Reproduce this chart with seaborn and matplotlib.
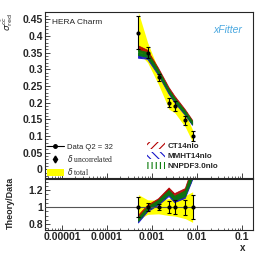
import matplotlib
matplotlib.use('Agg')
import matplotlib.pyplot as plt
import seaborn as sns
import numpy as np
import pandas as pd
from matplotlib.lines import Line2D
from matplotlib.patches import Patch
from matplotlib.ticker import MultipleLocator, FixedLocator, LogLocator, NullFormatter, FuncFormatter

# --- data (HERA charm, Q2 = 32) ---
x_vals = [0.0005, 0.0008, 0.0014, 0.0024, 0.0032, 0.0055, 0.008]
sigma_red = [0.410, 0.350, 0.276, 0.200, 0.190, 0.147, 0.100]
err_uncor = [0.050, 0.0175, 0.011, 0.014, 0.015, 0.013, 0.014]
err_total = [0.060, 0.030, 0.022, 0.020, 0.020, 0.020, 0.018]

ct14 = [0.362, 0.350, 0.297, 0.240, 0.215, 0.174, 0.142]
ct14_err = [0.008, 0.007, 0.006, 0.005, 0.005, 0.005, 0.005]
mmht = [0.340, 0.336, 0.287, 0.230, 0.205, 0.166, 0.136]
mmht_err = [0.007, 0.006, 0.005, 0.005, 0.005, 0.004, 0.004]
nnpdf = [0.349, 0.343, 0.292, 0.234, 0.209, 0.170, 0.139]
nnpdf_err = [0.008, 0.007, 0.006, 0.005, 0.005, 0.005, 0.005]

x_ticks = [1e-5, 1e-4, 1e-3, 1e-2, 1e-1]
x_tick_labels = ['0.00001', '0.0001', '0.001', '0.01', '0.1']

df = pd.DataFrame({'x': x_vals, 'sigma': sigma_red, 'uncor': err_uncor, 'total': err_total})
df['ratio'] = 1.0
df['rel_uncor'] = df['uncor'] / df['sigma']
df['rel_total'] = df['total'] / df['sigma']

theory = [
    ('CT14nlo', ct14, ct14_err, '#b40000', '////'),
    ('MMHT14nlo', mmht, mmht_err, '#1414c8', '\\\\\\\\'),
    ('NNPDF3.0nlo', nnpdf, nnpdf_err, '#0a7a0a', '||||'),
]

sns.set_style("ticks")
plt.rcParams['font.family'] = ['Liberation Sans', 'DejaVu Sans']
plt.rcParams['xtick.direction'] = 'in'
plt.rcParams['ytick.direction'] = 'in'
plt.rcParams['hatch.linewidth'] = 0.8
plt.rcParams['axes.linewidth'] = 0.8

fig = plt.figure(figsize=(2.66, 2.58), dpi=100)
ax = fig.add_axes([0.169, 0.312, 0.782, 0.641])
axr = fig.add_axes([0.169, 0.1085, 0.782, 0.1975])

# --- top panel ---
ax.fill_between(df['x'], df['sigma'] - df['total'], df['sigma'] + df['total'],
                color='#ffff00', lw=0, zorder=1)
for name, vals, errs, col, hatch in theory:
    v = np.array(vals)
    e = np.array(errs)
    ax.fill_between(x_vals, v - e, v + e, facecolor=col, edgecolor=col,
                    hatch=hatch, lw=0.6, alpha=0.9, zorder=2)
ax.errorbar(df['x'], df['sigma'], yerr=df['uncor'], fmt='none', ecolor='black',
            elinewidth=0.8, capsize=1.2, capthick=0.8, zorder=4)
sns.scatterplot(data=df, x='x', y='sigma', ax=ax, color='black', s=9,
                edgecolor='black', linewidth=0, zorder=5, legend=False)

ax.set_xscale('log')
ax.set_xlim(4.2e-6, 0.175)
ax.set_ylim(-0.024, 0.471)
ax.yaxis.set_major_locator(MultipleLocator(0.05))
ax.yaxis.set_minor_locator(MultipleLocator(0.01))
ax.yaxis.set_major_formatter(FuncFormatter(lambda v, p: '%g' % round(v, 2)))
ax.xaxis.set_major_locator(FixedLocator(x_ticks))
ax.xaxis.set_minor_locator(LogLocator(base=10, subs=np.arange(2, 10)))
ax.xaxis.set_major_formatter(NullFormatter())
ax.xaxis.set_minor_formatter(NullFormatter())
ax.set_xlabel('')
ax.set_ylabel('')

# --- ratio panel ---
axr.fill_between(df['x'], 1 - df['rel_total'], 1 + df['rel_total'],
                 color='#ffff00', lw=0, zorder=1)
for name, vals, errs, col, hatch in theory:
    v = np.array(vals) / df['sigma'].values
    e = np.array(errs) / df['sigma'].values
    axr.fill_between(x_vals, v - e, v + e, facecolor=col, edgecolor=col,
                     hatch=hatch, lw=0.6, alpha=0.9, zorder=2)
axr.axhline(1.0, color='#555555', lw=0.8, zorder=3)
axr.errorbar(df['x'], df['ratio'], yerr=df['rel_uncor'], fmt='none', ecolor='black',
             elinewidth=0.8, capsize=1.2, capthick=0.8, zorder=4)
sns.scatterplot(data=df, x='x', y='ratio', ax=axr, color='black', s=9,
                edgecolor='black', linewidth=0, zorder=5, legend=False)

axr.set_xscale('log')
axr.set_xlim(4.2e-6, 0.175)
axr.set_ylim(0.73, 1.33)
axr.yaxis.set_major_locator(FixedLocator([0.8, 1.0, 1.2]))
axr.yaxis.set_minor_locator(MultipleLocator(0.05))
axr.yaxis.set_major_formatter(FuncFormatter(lambda v, p: '%g' % round(v, 2)))
axr.xaxis.set_major_locator(FixedLocator(x_ticks))
axr.xaxis.set_major_formatter(FuncFormatter(lambda v, p: x_tick_labels[x_ticks.index(v)] if v in x_ticks else ''))
axr.xaxis.set_minor_locator(LogLocator(base=10, subs=np.arange(2, 10)))
axr.xaxis.set_minor_formatter(NullFormatter())
axr.set_xlabel('')
axr.set_ylabel('')

for a in (ax, axr):
    a.tick_params(which='major', length=3.6, width=0.6, labelsize=7.5, pad=1.5)
    a.tick_params(which='minor', length=1.8, width=0.5)
    for lab in a.get_xticklabels() + a.get_yticklabels():
        lab.set_fontweight('bold')

# --- legends ---
left_handles = [
    Line2D([], [], color='black', marker='o', ms=2.5, lw=0.8),
    Line2D([], [], color='black', marker='d', ms=3.5, lw=0),
    Patch(facecolor='#ffff00', edgecolor='none'),
]
leg1 = ax.legend(left_handles, ['Data Q2 = 32', r'$\delta$ uncorrelated', r'$\delta$ total'],
                 loc='upper left', bbox_to_anchor=(0.01, 0.21), frameon=False,
                 fontsize=5.5, handlelength=2.2, handleheight=0.9, labelspacing=0.3,
                 handletextpad=0.4, borderpad=0, borderaxespad=0)
leg1.get_texts()[1].set_family(['Liberation Serif'])
leg1.get_texts()[2].set_family(['Liberation Serif'])
ax.add_artist(leg1)

right_handles = [Patch(facecolor='white', edgecolor=col, hatch=hatch, lw=0)
                 for name, vals, errs, col, hatch in theory]
leg2 = ax.legend(right_handles, [t[0] for t in theory],
                 loc='upper left', bbox_to_anchor=(0.49, 0.215), frameon=False,
                 fontsize=5.8, handlelength=2.2, handleheight=0.9, labelspacing=0.25,
                 handletextpad=0.4, borderpad=0, borderaxespad=0)
for t in leg2.get_texts():
    t.set_fontweight('bold')

# --- text ---
fig.text(52 / 266, 1 - 22 / 258, 'HERA Charm', fontsize=6, va='center', ha='left')
fig.text(228 / 266, 1 - 30 / 258, 'xFitter', fontsize=7.5, color='#4aa8e0',
         style='italic', va='center', ha='center')
fig.text(8 / 266, 1 - 22 / 258, r'$\sigma^{c\bar{c}}_{\rm red}$', fontsize=6.5,
         rotation=90, va='center', ha='center')
fig.text(10 / 266, 1 - 203 / 258, 'Theory/Data', fontsize=6.5, fontweight='bold',
         rotation=90, va='center', ha='center')
fig.text(243 / 266, 1 - 248 / 258, 'x', fontsize=7, fontweight='bold', va='center', ha='center')

fig.savefig('out.png', dpi=100)
